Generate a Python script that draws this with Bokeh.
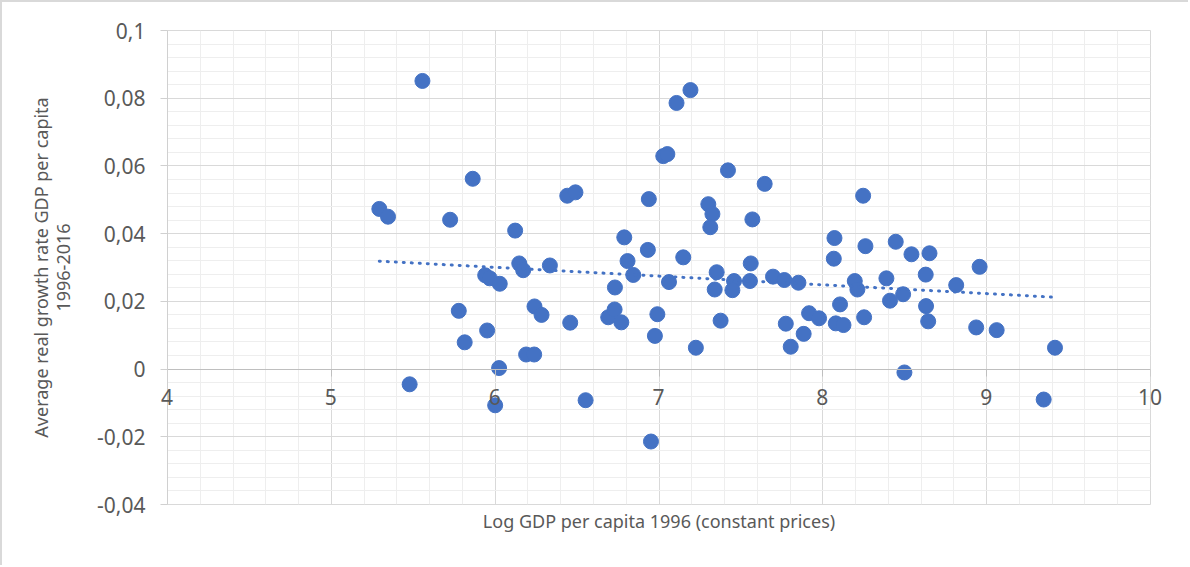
import numpy as np
from bokeh.plotting import figure
from bokeh.models import (Range1d, FixedTicker, LinearAxis, CustomJSTickFormatter,
                          HTMLLabelSet, ColumnDataSource)
from bokeh.core.properties import value
from bokeh.embed import file_html
from bokeh.resources import INLINE

# ---- data ----
log_gdp_1996 = [
    5.293, 5.346, 5.556, 5.478, 5.725, 5.863, 5.778, 5.814, 5.951, 5.939,
    5.967, 6.028, 6.024, 6.000, 6.122, 6.147, 6.171, 6.189, 6.238, 6.240,
    6.283, 6.334, 6.440, 6.490, 6.458, 6.552, 6.690, 6.729, 6.770, 6.731,
    6.788, 6.808, 6.843, 6.932, 6.938, 6.951, 6.975, 6.990, 7.026, 7.051,
    7.061, 7.107, 7.148, 7.192, 7.225, 7.301, 7.326, 7.313, 7.352, 7.340,
    7.376, 7.421, 7.458, 7.448, 7.555, 7.560, 7.570, 7.645, 7.696, 7.765,
    7.774, 7.804, 7.851, 7.883, 7.916, 7.977, 8.067, 8.071, 8.079, 8.105,
    8.126, 8.195, 8.211, 8.246, 8.252, 8.260, 8.388, 8.410, 8.445, 8.490,
    8.498, 8.541, 8.628, 8.630, 8.643, 8.651, 8.814, 8.936, 8.957, 9.061,
    9.348, 9.417,
]
growth_1996_2016 = [
    0.0473, 0.0450, 0.0851, -0.0045, 0.0441, 0.0562, 0.0172, 0.0079, 0.0114, 0.0277,
    0.0268, 0.0252, 0.0003, -0.0107, 0.0409, 0.0312, 0.0292, 0.0043, 0.0043, 0.0185,
    0.0160, 0.0306, 0.0512, 0.0522, 0.0137, -0.0092, 0.0153, 0.0176, 0.0138, 0.0241,
    0.0389, 0.0319, 0.0278, 0.0352, 0.0502, -0.0214, 0.0098, 0.0162, 0.0629, 0.0635,
    0.0257, 0.0786, 0.0330, 0.0824, 0.0063, 0.0487, 0.0458, 0.0419, 0.0286, 0.0235,
    0.0143, 0.0587, 0.0260, 0.0233, 0.0260, 0.0312, 0.0442, 0.0547, 0.0273, 0.0263,
    0.0134, 0.0066, 0.0255, 0.0104, 0.0165, 0.0150, 0.0326, 0.0387, 0.0135, 0.0191,
    0.0130, 0.0260, 0.0235, 0.0512, 0.0153, 0.0363, 0.0268, 0.0202, 0.0376, 0.0221,
    -0.0010, 0.0339, 0.0279, 0.0186, 0.0141, 0.0342, 0.0248, 0.0123, 0.0302, 0.0115,
    -0.0090, 0.0063,
]
x_ticks = [4, 5, 6, 7, 8, 9, 10]
x_tick_labels = ["4", "5", "6", "7", "8", "9", "10"]
y_ticks = [-0.04, -0.02, 0.0, 0.02, 0.04, 0.06, 0.08, 0.1]
y_tick_labels = ["-0,04", "-0,02", "0", "0,02", "0,04", "0,06", "0,08", "0,1"]
x_title = "Log GDP per capita 1996 (constant prices)"
y_title_line1 = "Average real growth rate GDP per capita"
y_title_line2 = "1996-2016"

FONT = "Noto Sans"
TXT = "#595959"
BLUE = "#4472C4"

def minor_between(ticks, n):
    out = []
    for a, b in zip(ticks[:-1], ticks[1:]):
        out.extend(np.linspace(a, b, n + 1)[1:-1].tolist())
    return out

p = figure(width=1188, height=565, output_backend="svg", toolbar_location=None,
           x_range=Range1d(x_ticks[0], x_ticks[-1]), y_range=Range1d(y_ticks[0], y_ticks[-1]),
           min_border_left=165, min_border_top=28, min_border_right=40, min_border_bottom=63)
p.styles = {"border-left": "2px solid #d9d9d9", "border-top": "2px solid #d9d9d9"}
p.background_fill_color = "white"
p.border_fill_color = "white"
p.outline_line_color = "#d9d9d9"
p.outline_line_width = 1

fmt_code = ("for (let i = 0; i < tvals.length; i++) {"
            " if (Math.abs(tvals[i] - tick) < 1e-9) return tlabels[i]; }"
            " return '';")

# x axis crossing at y = 0 (line + ticks)
xa = p.xaxis[0]
xa.ticker = FixedTicker(ticks=x_ticks, minor_ticks=minor_between(x_ticks, 5))
xa.formatter = CustomJSTickFormatter(args=dict(tvals=x_ticks, tlabels=x_tick_labels), code=fmt_code)
xa.fixed_location = 0
xa.axis_line_color = "#bfbfbf"
xa.major_tick_line_color = "#bfbfbf"
xa.major_tick_out = 7
xa.major_tick_in = 0
xa.minor_tick_line_color = None
xa.major_label_text_alpha = 0

# x tick labels under the zero line (HTML labels are not clipped at the frame)
xlab_src = ColumnDataSource(dict(x=x_ticks, y=[0] * len(x_ticks), text=x_tick_labels))
p.add_layout(HTMLLabelSet(x="x", y="y", text="text", source=xlab_src,
                          text_align="center", text_baseline="top", y_offset=-14,
                          text_font=value(FONT), text_font_size=value("21px"),
                          text_color=TXT))

# x title axis at the bottom
xt = LinearAxis(ticker=FixedTicker(ticks=[]), axis_label=x_title)
xt.axis_line_color = None
xt.major_tick_line_color = None
xt.minor_tick_line_color = None
xt.major_tick_out = 0
xt.axis_label_standoff = 4
xt.axis_label_text_font = FONT
xt.axis_label_text_font_size = "18px"
xt.axis_label_text_font_style = "normal"
xt.axis_label_text_color = TXT
p.add_layout(xt, "below")

ya = p.yaxis[0]
ya.ticker = FixedTicker(ticks=y_ticks, minor_ticks=minor_between(y_ticks, 5))
ya.formatter = CustomJSTickFormatter(args=dict(tvals=y_ticks, tlabels=y_tick_labels), code=fmt_code)
ya.axis_line_color = "#d0d0d0"
ya.major_tick_line_color = "#d0d0d0"
ya.major_tick_out = 7
ya.major_tick_in = 0
ya.minor_tick_line_color = None
ya.major_label_standoff = 15
ya.major_label_text_font = FONT
ya.major_label_text_font_size = "21px"
ya.major_label_text_color = TXT
ya.axis_label = y_title_line2
ya.axis_label_standoff = 24
ya.axis_label_text_font = FONT
ya.axis_label_text_font_size = "18px"
ya.axis_label_text_font_style = "normal"
ya.axis_label_text_color = TXT

# first line of the y title, one step further out
yt = LinearAxis(ticker=FixedTicker(ticks=[]), axis_label=y_title_line1)
yt.axis_line_color = None
yt.major_tick_line_color = None
yt.minor_tick_line_color = None
yt.major_tick_out = 0
yt.axis_label_standoff = 2
yt.axis_label_text_font = FONT
yt.axis_label_text_font_size = "18px"
yt.axis_label_text_font_style = "normal"
yt.axis_label_text_color = TXT
p.add_layout(yt, "left")

for g in (p.xgrid[0], p.ygrid[0]):
    g.grid_line_color = "#d9d9d9"
    g.grid_line_width = 1
    g.minor_grid_line_color = "#eeeeee"
    g.minor_grid_line_width = 1

# points
p.scatter(log_gdp_1996, growth_1996_2016, size=15, fill_color=BLUE, line_color=BLUE, line_width=1)

# linear trendline (least squares, like Excel)
slope, intercept = np.polyfit(log_gdp_1996, growth_1996_2016, 1)
tx = [min(log_gdp_1996), max(log_gdp_1996)]
ty = [slope * v + intercept for v in tx]
p.line(tx, ty, line_color=BLUE, line_width=3, line_dash="1 7", line_cap="round")

open("out.html", "w").write(file_html(p, INLINE))
